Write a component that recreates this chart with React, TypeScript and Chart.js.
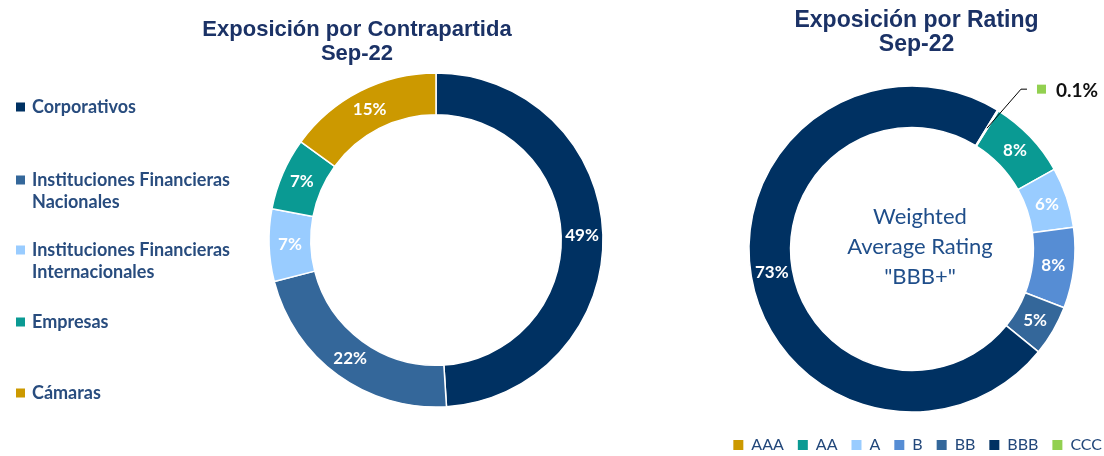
import React, { useEffect, useRef } from 'react';
import { Chart, registerables } from 'chart.js';

Chart.register(...registerables);

// ---------- data ----------
const counterpartyCategories = [
  'Corporativos',
  'Instituciones Financieras Nacionales',
  'Instituciones Financieras Internacionales',
  'Empresas',
  'Cámaras',
];
const counterpartyValues = [49, 22, 7, 7, 15];

const ratingCategories = ['AAA', 'AA', 'A', 'B', 'BB', 'BBB', 'CCC'];
const ratingValues = [0, 8, 6, 8, 5, 73, 0.1];

const leftTitle = ['Exposición por Contrapartida', 'Sep-22'];
const rightTitle = ['Exposición por Rating', 'Sep-22'];
const centerText = ['Weighted', 'Average Rating', '"BBB+"'];

// ---------- styles ----------
const counterpartyColors = ['#003162', '#34679A', '#99CCFF', '#0A9A93', '#CC9900'];
const ratingColors = ['#CC9900', '#0A9A93', '#99CCFF', '#568DD4', '#34679A', '#003162', '#92D050'];

const TITLE_COLOR = '#1B3266';
const LEGEND_TEXT = '#284C7E';
const CENTER_COLOR = '#1F4E8A';
const BOTTOM_LEGEND_COLOR = '#22477A';

const RIGHT_LEFT = 680; // page x of right canvas
const LEGEND_Y = [107, 180, 250, 322, 393];

const sliceLabels = {
  id: 'sliceLabels',
  afterDatasetsDraw(chart: any) {
    const ctx = chart.ctx;
    const meta = chart.getDatasetMeta(0);
    const values = chart.data.datasets[0].data as number[];
    ctx.save();
    ctx.font = 'bold 17px Lato, "Open Sans", sans-serif';
    ctx.fillStyle = '#FFFFFF';
    ctx.textAlign = 'center';
    ctx.textBaseline = 'middle';
    meta.data.forEach((arc: any, i: number) => {
      const v = values[i];
      if (v < 1) return;
      const p = arc.getCenterPoint();
      ctx.fillText(`${v}%`, p.x, p.y);
    });
    ctx.restore();
  },
};

const leftDecor = {
  id: 'leftDecor',
  afterDraw(chart: any) {
    const ctx = chart.ctx;
    ctx.save();
    ctx.fillStyle = TITLE_COLOR;
    ctx.font = 'bold 22px "Liberation Sans", Arial, sans-serif';
    ctx.textAlign = 'center';
    ctx.textBaseline = 'alphabetic';
    leftTitle.forEach((t, i) => ctx.fillText(t, 357, 36 + i * 24));

    ctx.font = 'bold 18px Lato, "Open Sans", sans-serif';
    ctx.textAlign = 'left';
    ctx.textBaseline = 'middle';
    counterpartyCategories.forEach((name, i) => {
      const lines = name.replace('Financieras ', 'Financieras\n').split('\n');
      const y = LEGEND_Y[i];
      ctx.fillStyle = counterpartyColors[i];
      ctx.fillRect(16, y - 4.5, 9, 9);
      ctx.fillStyle = LEGEND_TEXT;
      lines.forEach((ln, j) => ctx.fillText(ln, 32, y + j * 22.5));
    });
    ctx.restore();
  },
};

const rightDecor = {
  id: 'rightDecor',
  afterDraw(chart: any) {
    const ctx = chart.ctx;
    const meta = chart.getDatasetMeta(0);
    ctx.save();
    // title
    ctx.fillStyle = TITLE_COLOR;
    ctx.font = 'bold 23px "Liberation Sans", Arial, sans-serif';
    ctx.textAlign = 'center';
    ctx.textBaseline = 'alphabetic';
    rightTitle.forEach((t, i) => ctx.fillText(t, 916.5 - RIGHT_LEFT, 27 + i * 23.5));

    // center text
    const first = meta.data[0] as any;
    const cx = first.x;
    const cy = first.y;
    ctx.fillStyle = CENTER_COLOR;
    ctx.font = '22px Lato, "Open Sans", sans-serif';
    centerText.forEach((t, i) => ctx.fillText(t, cx + 8, cy - 25.5 + i * 30));

    // leader line for the tiny slice
    const idx = ratingValues.length - 1;
    const arc = meta.data[idx] as any;
    const mid = (arc.startAngle + arc.endAngle) / 2;
    const r = (arc.innerRadius + arc.outerRadius) / 2;
    const x0 = arc.x + Math.cos(mid) * r;
    const y0 = arc.y + Math.sin(mid) * r;
    const x1 = x0 + 34;
    const y1 = y0 - 39;
    const x2 = x1 + 6;
    ctx.strokeStyle = '#000000';
    ctx.lineWidth = 1;
    ctx.beginPath();
    ctx.moveTo(x0, y0);
    ctx.lineTo(x1, y1);
    ctx.lineTo(x2, y1);
    ctx.stroke();
    ctx.fillStyle = ratingColors[idx];
    ctx.fillRect(x2 + 10, y1 - 4.5, 9, 9);
    ctx.fillStyle = '#111111';
    ctx.font = 'bold 19px Lato, "Open Sans", sans-serif';
    ctx.textAlign = 'left';
    ctx.fillText(`${ratingValues[idx]}%`, x2 + 29, y1 + 7.5);
    ctx.restore();
  },
};

export default function App() {
  const leftRef = useRef<HTMLCanvasElement>(null);
  const rightRef = useRef<HTMLCanvasElement>(null);

  useEffect(() => {
    const left = new Chart(leftRef.current as HTMLCanvasElement, {
      type: 'doughnut',
      data: {
        labels: counterpartyCategories,
        datasets: [
          {
            data: counterpartyValues,
            backgroundColor: counterpartyColors,
            borderColor: '#FFFFFF',
            borderWidth: 1.5,
          },
        ],
      },
      options: {
        animation: false,
        responsive: true,
        maintainAspectRatio: false,
        events: [],
        rotation: 0,
        radius: 167,
        cutout: '75%',
        layout: { padding: { left: 270, right: 106, top: 74, bottom: 50 } },
        plugins: {
          legend: { display: false },
          title: { display: false },
          tooltip: { enabled: false },
        },
      } as any,
      plugins: [sliceLabels, leftDecor],
    });

    const baseGen = (Chart as any).overrides.doughnut.plugins.legend.labels.generateLabels;
    const right = new Chart(rightRef.current as HTMLCanvasElement, {
      type: 'doughnut',
      data: {
        labels: ratingCategories,
        datasets: [
          {
            data: ratingValues,
            backgroundColor: ratingColors,
            borderColor: '#FFFFFF',
            borderWidth: 1.5,
          },
        ],
      },
      options: {
        animation: false,
        responsive: true,
        maintainAspectRatio: false,
        events: [],
        rotation: 32,
        radius: 163,
        cutout: '74.5%',
        layout: { padding: { left: 0, right: 0, top: 75, bottom: 0 } },
        plugins: {
          tooltip: { enabled: false },
          title: {
            display: true,
            position: 'left',
            fullSize: false,
            text: ' ',
            padding: 0,
            color: 'rgba(0,0,0,0)',
            font: { size: 20, lineHeight: 1.4 },
          },
          legend: {
            position: 'bottom',
            align: 'end',
            labels: {
              boxWidth: 10,
              boxHeight: 10,
              padding: 14,
              color: BOTTOM_LEGEND_COLOR,
              font: { family: 'Lato, "Open Sans", sans-serif', size: 16 },
              generateLabels: (c: any) => baseGen(c).map((l: any) => ({ ...l, lineWidth: 0 })),
            },
          },
        },
      } as any,
      plugins: [sliceLabels, rightDecor],
    });

    return () => {
      left.destroy();
      right.destroy();
    };
  }, []);

  return (
    <div
      style={{
        position: 'absolute',
        left: 0,
        top: 0,
        width: 1104,
        height: 456,
        overflow: 'hidden',
        background: '#FFFFFF',
      }}
    >
      <div style={{ position: 'absolute', left: 0, top: 0, width: 708, height: 456 }}>
        <canvas ref={leftRef} />
      </div>
      <div style={{ position: 'absolute', left: RIGHT_LEFT, top: 0, width: 436, height: 463 }}>
        <canvas ref={rightRef} />
      </div>
    </div>
  );
}
